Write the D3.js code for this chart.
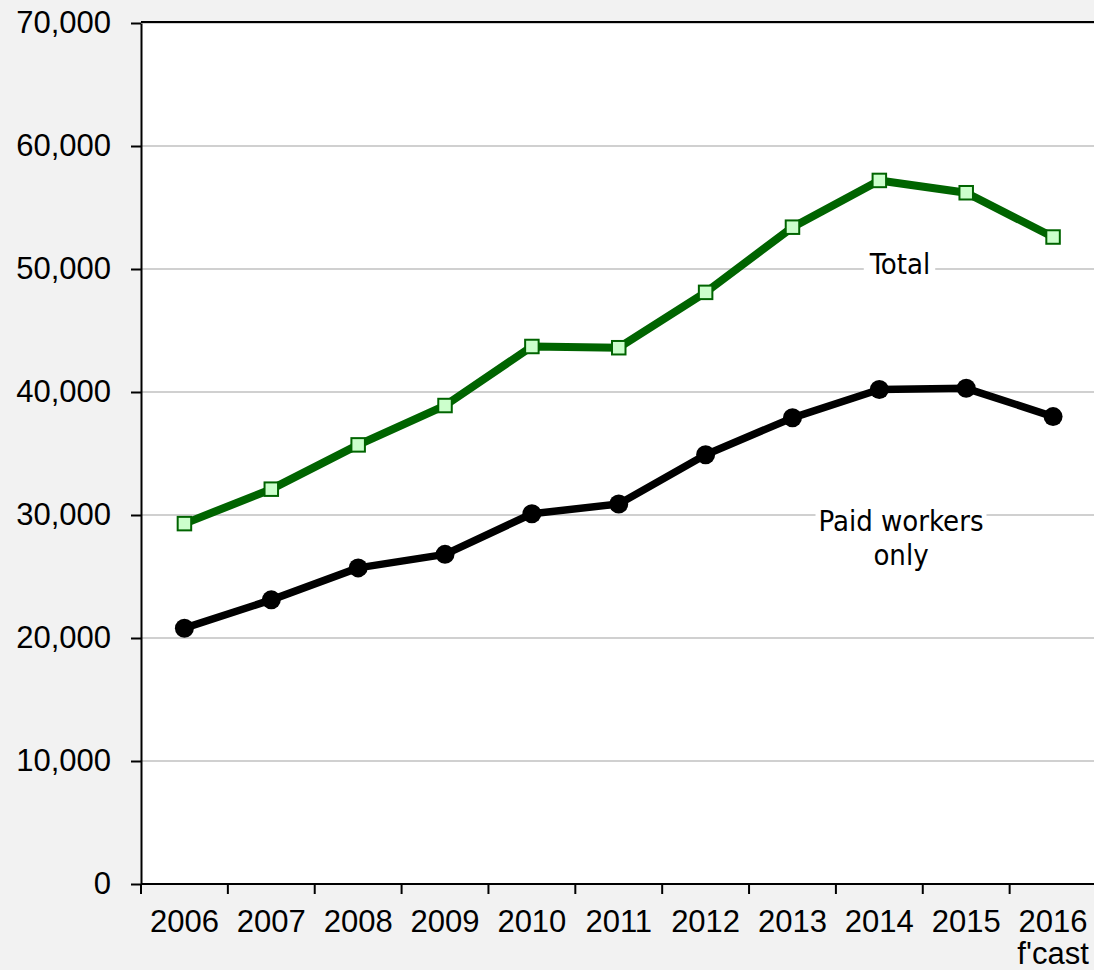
<!DOCTYPE html>
<html>
<head>
<meta charset="utf-8">
<script src="https://cdn.jsdelivr.net/npm/d3@7/dist/d3.min.js"></script>
<style>
  html, body { margin: 0; padding: 0; background: #f2f2f2; }
  svg { display: block; }
</style>
</head>
<body>
<svg id="chart" width="1094" height="970"></svg>
<script>
// Years on the category axis
const years = ["2006", "2007", "2008", "2009", "2010", "2011", "2012", "2013", "2014", "2015", "2016"];
// Second line of the last category label
const yearNotes = ["", "", "", "", "", "", "", "", "", "", "f'cast"];
// Total
const totalValues = [29300, 32100, 35700, 38900, 43700, 43600, 48100, 53400, 57200, 56200, 52600];
// Paid workers only
const paidValues = [20800, 23100, 25700, 26800, 30100, 30900, 34900, 37900, 40200, 40300, 38000];
// Value axis ticks
const yTicks = [0, 10000, 20000, 30000, 40000, 50000, 60000, 70000];

const svg = d3.select("#chart");
const plotLeft = 141, plotRight = 1096.5, plotTop = 23, plotBottom = 884;

const x = d3.scaleBand().domain(years).range([plotLeft, plotRight]).padding(0);
const y = d3.scaleLinear().domain([0, 70000]).range([plotBottom, plotTop]);
const cx = d => x(d) + x.bandwidth() / 2;

// Plot area
svg.append("rect")
  .attr("x", plotLeft).attr("y", plotTop)
  .attr("width", plotRight - plotLeft).attr("height", plotBottom - plotTop)
  .attr("fill", "#ffffff");

// Horizontal gridlines
svg.append("g")
  .selectAll("line")
  .data(yTicks.filter(v => v > 0))
  .join("line")
  .attr("x1", plotLeft).attr("x2", plotRight)
  .attr("y1", d => y(d)).attr("y2", d => y(d))
  .attr("stroke", "#c0c0c0")
  .attr("stroke-width", 1.6);

// Top border of plot area
svg.append("line")
  .attr("x1", plotLeft).attr("x2", plotRight)
  .attr("y1", plotTop - 1).attr("y2", plotTop - 1)
  .attr("stroke", "#000").attr("stroke-width", 2);

// Value axis
const yAxis = svg.append("g")
  .attr("transform", `translate(${plotLeft},0)`)
  .call(d3.axisLeft(y)
    .tickValues(yTicks)
    .tickSize(10)
    .tickSizeOuter(0)
    .tickPadding(20)
    .tickFormat(d3.format(",")));
yAxis.select(".domain").attr("stroke", "#000").attr("stroke-width", 2);
yAxis.selectAll(".tick line").attr("stroke", "#000").attr("stroke-width", 2);
yAxis.selectAll(".tick text")
  .attr("fill", "#000")
  .style("font-family", "'Liberation Sans', Arial, sans-serif")
  .style("font-size", "31px");

// Category axis
const xAxis = svg.append("g")
  .attr("transform", `translate(0,${plotBottom})`)
  .call(d3.axisBottom(x).tickSize(0).tickSizeOuter(0).tickPadding(0));
xAxis.select(".domain").attr("stroke", "#000").attr("stroke-width", 2)
  .attr("d", `M${plotLeft},0H${plotRight}`);
xAxis.selectAll(".tick text").remove();

// Tick marks at category boundaries
const boundaries = years.map(d => x(d)).concat([plotRight]);
xAxis.selectAll("line.boundary")
  .data(boundaries)
  .join("line")
  .attr("class", "boundary")
  .attr("x1", d => d).attr("x2", d => d)
  .attr("y1", 0).attr("y2", 10)
  .attr("stroke", "#000").attr("stroke-width", 2);

// Category labels
const labelG = svg.append("g")
  .style("font-family", "'Liberation Sans', Arial, sans-serif")
  .style("font-size", "31px")
  .attr("fill", "#000")
  .attr("text-anchor", "middle");
labelG.selectAll("text.year")
  .data(years)
  .join("text")
  .attr("class", "year")
  .attr("x", d => cx(d))
  .attr("y", 932)
  .text(d => d);
labelG.selectAll("text.note")
  .data(years.map((d, i) => ({ year: d, note: yearNotes[i] })).filter(d => d.note))
  .join("text")
  .attr("class", "note")
  .attr("x", d => cx(d.year))
  .attr("y", 964)
  .text(d => d.note);

// Series lines
const totalData = years.map((d, i) => ({ year: d, value: totalValues[i] }));
const paidData = years.map((d, i) => ({ year: d, value: paidValues[i] }));
const line = d3.line().x(d => cx(d.year)).y(d => y(d.value));

svg.append("path")
  .datum(paidData)
  .attr("d", line)
  .attr("fill", "none")
  .attr("stroke", "#000")
  .attr("stroke-width", 7.5)
  .attr("stroke-linejoin", "round");

svg.append("path")
  .datum(totalData)
  .attr("d", line)
  .attr("fill", "none")
  .attr("stroke", "#006400")
  .attr("stroke-width", 8)
  .attr("stroke-linejoin", "round");

// Markers
svg.append("g")
  .selectAll("circle")
  .data(paidData)
  .join("circle")
  .attr("cx", d => cx(d.year))
  .attr("cy", d => y(d.value))
  .attr("r", 9.5)
  .attr("fill", "#000");

const sq = 13.5;
svg.append("g")
  .selectAll("rect")
  .data(totalData)
  .join("rect")
  .attr("x", d => cx(d.year) - sq / 2)
  .attr("y", d => y(d.value) - sq / 2)
  .attr("width", sq).attr("height", sq)
  .attr("fill", "#ccffcc")
  .attr("stroke", "#006400")
  .attr("stroke-width", 2);

// Series annotations with white backing
function annotate(lines, xc, baseline, lineHeight, padX, padY) {
  const g = svg.append("g");
  const bg = g.append("rect").attr("fill", "#ffffff");
  const t = g.append("text")
    .attr("text-anchor", "middle")
    .attr("fill", "#000")
    .style("font-family", "'DejaVu Sans Condensed', 'DejaVu Sans', Verdana, sans-serif")
    .style("font-stretch", "condensed")
    .style("font-size", "29px");
  lines.forEach((s, i) => {
    t.append("tspan").attr("x", xc).attr("y", baseline + i * lineHeight).text(s);
  });
  const b = t.node().getBBox();
  bg.attr("x", b.x - padX).attr("y", b.y - padY)
    .attr("width", b.width + 2 * padX).attr("height", b.height + 2 * padY);
}
annotate(["Total"], 900, 274, 0, 5, 1);
annotate(["Paid workers", "only"], 901, 531, 34, 3, 1);
</script>
</body>
</html>
